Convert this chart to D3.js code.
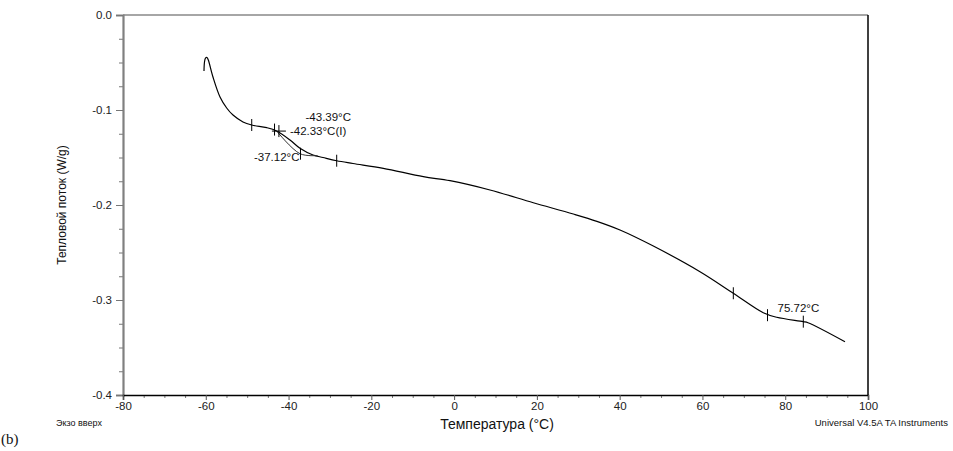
<!DOCTYPE html>
<html><head><meta charset="utf-8">
<script src="https://cdn.jsdelivr.net/npm/d3@7"></script>
<style>
html,body{margin:0;padding:0;background:#fff;}
svg{display:block;font-family:"Liberation Sans",Arial,sans-serif;}
</style></head>
<body>
<svg id="chart" width="953" height="451"></svg>
<script>
// ---- data ----
const temperature = [-60.43,-60.31,-60.07,-59.70,-59.39,-58.26,-56.56,-54.95,-53.42,-51.01,-48.90,-45.28,-42.87,-39.65,-37.24,-34.09,-31.68,-28.37,-24.43,-17.11,-7.44,-0.99,8.67,19.13,28.80,34.5,40.08,48.13,59.41,67.46,74.70,77.94,84.37,85.50,94.44];
const heatFlow    = [-0.0589,-0.0495,-0.0453,-0.0447,-0.0474,-0.0653,-0.0863,-0.0979,-0.1053,-0.1126,-0.1158,-0.1186,-0.1221,-0.1316,-0.1403,-0.1474,-0.1500,-0.1534,-0.1563,-0.1614,-0.1702,-0.1744,-0.1842,-0.1976,-0.2095,-0.2172,-0.2263,-0.2432,-0.2702,-0.2929,-0.3134,-0.3182,-0.3228,-0.3239,-0.3439];
// onset construction line (temperature, heat flow)
const onsetLineT = [-42.87,-37.24,-33.0];
const onsetLineH = [-0.1221,-0.1460,-0.1480];
// analysis tick marks on the curve
const markT = [-48.90,-43.39,-37.12,-28.37,67.46,75.72,84.37];
const markH = [-0.1158,-0.1206,-0.1460,-0.1534,-0.2929,-0.3160,-0.3228];
const crossT = -42.33, crossH = -0.1222;
const labels = ["-43.39°C","-42.33°C(I)","-37.12°C","75.72°C"];
const xTicks = [-80,-60,-40,-20,0,20,40,60,80,100];
const yTicks = [0.0,-0.1,-0.2,-0.3,-0.4];

// ---- layout ----
const svg = d3.select("#chart");
const L=123, R=868, T=15, B=395;
const x = d3.scaleLinear().domain([-80,100]).range([L,R]);
const y = d3.scaleLinear().domain([-0.4,0]).range([B,T]);
const hy = s => s.replace("\u2212","-");

// frame: top gray, right black
svg.append("line").attr("x1",L).attr("x2",R).attr("y1",T).attr("y2",T).attr("stroke","#888").attr("stroke-width",1.5);
svg.append("line").attr("x1",R).attr("x2",R).attr("y1",T).attr("y2",B).attr("stroke","#000").attr("stroke-width",1.5);

// y axis (minor ticks)
const yMinor = d3.range(0,17).map(i=>-0.025*i).filter(v=>!yTicks.some(t=>Math.abs(t-v)<1e-9));
const gyMinor = svg.append("g").attr("transform",`translate(${L},0)`)
  .call(d3.axisLeft(y).tickValues(yMinor).tickSize(4).tickFormat(""));
gyMinor.select(".domain").remove();
gyMinor.selectAll("line").attr("stroke","#777");
const gy = svg.append("g").attr("transform",`translate(${L},0)`)
  .call(d3.axisLeft(y).tickValues(yTicks).tickSize(7).tickPadding(4).tickFormat(d=>hy(d3.format(".1f")(d))));
gy.select(".domain").attr("stroke","#808080").attr("stroke-width",2.2);
gy.selectAll("line").attr("stroke","#777");
gy.selectAll("text").attr("font-size",11.5).attr("fill","#222").attr("font-family","Liberation Sans, Arial, sans-serif");

// x axis
const xMinor = d3.range(-80,101,5).filter(v=>v%20!==0);
const gxMinor = svg.append("g").attr("transform",`translate(0,${B})`)
  .call(d3.axisBottom(x).tickValues(xMinor).tickSize(3).tickFormat(""));
gxMinor.select(".domain").remove();
gxMinor.selectAll("line").attr("stroke","#777");
const gx = svg.append("g").attr("transform",`translate(0,${B})`)
  .call(d3.axisBottom(x).tickValues(xTicks).tickSize(5).tickPadding(2).tickFormat(d=>hy(d3.format("d")(d))));
gx.select(".domain").attr("stroke","#000").attr("stroke-width",1.5);
gx.selectAll("line").attr("stroke","#555");
gx.selectAll("text").attr("font-size",11.5).attr("fill","#222").attr("font-family","Liberation Sans, Arial, sans-serif");

// curve
const pts = temperature.map((t,i)=>[t,heatFlow[i]]);
const line = d3.line().x(d=>x(d[0])).y(d=>y(d[1])).curve(d3.curveCatmullRom.alpha(0.5));
svg.append("path").attr("d",line(pts)).attr("fill","none").attr("stroke","#000").attr("stroke-width",1.2);

// onset construction line
const opts = onsetLineT.map((t,i)=>[t,onsetLineH[i]]);
svg.append("path").attr("d",d3.line().x(d=>x(d[0])).y(d=>y(d[1])).curve(d3.curveCatmullRom)(opts))
  .attr("fill","none").attr("stroke","#333").attr("stroke-width",1);

// tick marks
markT.forEach((t,i)=>{
  svg.append("line").attr("x1",x(t)).attr("x2",x(t)).attr("y1",y(markH[i])-6).attr("y2",y(markH[i])+6)
    .attr("stroke","#000").attr("stroke-width",1);
});
// cross
svg.append("line").attr("x1",x(crossT)-7).attr("x2",x(crossT)+7).attr("y1",y(crossH)).attr("y2",y(crossH)).attr("stroke","#000").attr("stroke-width",1);
svg.append("line").attr("x1",x(crossT)).attr("x2",x(crossT)).attr("y1",y(crossH)-6).attr("y2",y(crossH)+6).attr("stroke","#000").attr("stroke-width",1);

// annotation labels
const lab = (txt,px,py,anchor)=>svg.append("text").attr("x",px).attr("y",py).attr("text-anchor",anchor||"start")
  .attr("font-size",11.5).attr("fill","#111").text(txt);
lab(labels[0], x(-43.39)+31, y(-0.1206)-9);
lab(labels[1], x(crossT)+11, y(crossH)+4);
lab(labels[2], x(-37.12)-1, y(-0.1460)+7, "end");
lab(labels[3], x(75.72)+10, y(-0.3160)-3);

// axis titles and footer
svg.append("text").attr("transform","translate(66,205) rotate(-90)").attr("text-anchor","middle")
  .attr("font-size",12).attr("fill","#111").text("Тепловой поток (W/g)");
svg.append("text").attr("x",497).attr("y",429).attr("text-anchor","middle")
  .attr("font-size",14).attr("fill","#111").text("Температура (°C)");
svg.append("text").attr("x",56).attr("y",426).attr("font-size",9).attr("fill","#111").text("Экзо вверх");
svg.append("text").attr("x",948).attr("y",426).attr("text-anchor","end").attr("font-size",9.5).attr("fill","#111").text("Universal V4.5A TA Instruments");
svg.append("text").attr("x",1).attr("y",444).attr("font-size",15).attr("font-family","Liberation Serif, Times New Roman, serif").attr("fill","#111").text("(b)");
</script>
</body></html>
